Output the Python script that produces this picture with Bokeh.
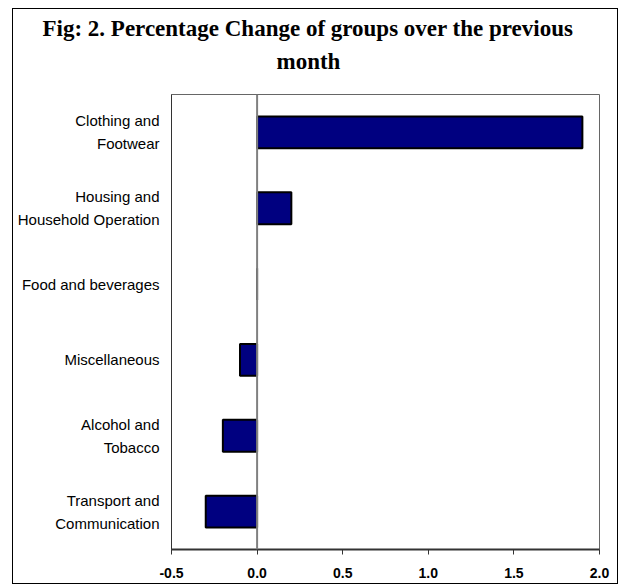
from bokeh.plotting import figure
from bokeh.models import FactorRange, Range1d, Span, FixedTicker, ColumnDataSource, Title, NumeralTickFormatter
from bokeh.embed import file_html
from bokeh.resources import INLINE

categories = ["Transport and\nCommunication", "Alcohol and\nTobacco", "Miscellaneous",
              "Food and beverages", "Housing and\nHousehold Operation", "Clothing and\nFootwear"]
values = [-0.3, -0.2, -0.1, 0.0, 0.2, 1.9]
x_ticks = [-0.5, 0.0, 0.5, 1.0, 1.5, 2.0]
title_lines = ["Fig: 2. Percentage Change of groups over the previous", "month"]
title_offsets = [-129, 105]
title_pads = [(0, 0, 0, 0), (0, 0, 0, 18)]

src = ColumnDataSource(dict(cat=categories, val=values))

p = figure(width=604, height=574, output_backend="svg", toolbar_location=None,
           y_range=FactorRange(factors=categories), x_range=Range1d(-0.5, 2.0),
           min_border_left=158, min_border_right=20, min_border_top=85, min_border_bottom=36)
p.margin = (8, 0, 0, 12)
p.styles = {"border": "1px solid black", "box-sizing": "content-box"}
p.title = None
for txt, off, pad in reversed(list(zip(title_lines, title_offsets, title_pads))):
    t = Title(text=txt, align="left", offset=off, text_font="Liberation Serif",
              text_font_style="bold", text_font_size="23px", text_color="black",
              standoff=6, padding=pad)
    p.add_layout(t, "above")

p.hbar(y="cat", right="val", left=0, height=0.42, source=src,
       fill_color="#000080", line_color="black", line_width=2)

p.add_layout(Span(location=0, dimension="height", line_color="#808080", line_width=2))

p.xgrid.visible = False
p.ygrid.visible = False
p.outline_line_color = "#666666"
p.outline_line_width = 1

p.xaxis.ticker = FixedTicker(ticks=x_ticks)
p.xaxis.formatter = NumeralTickFormatter(format="0.0")
p.xaxis.minor_tick_line_color = None
p.xaxis.major_tick_out = 5
p.xaxis.major_tick_in = 0
p.xaxis.axis_line_color = "#333333"
p.xaxis.axis_line_width = 2
p.xaxis.major_tick_line_color = "#333333"
p.xaxis.major_label_text_font = "Liberation Sans"
p.xaxis.major_label_text_font_style = "bold"
p.xaxis.major_label_text_font_size = "14px"
p.xaxis.major_label_text_color = "black"
p.xaxis.major_label_standoff = 13

p.yaxis.major_tick_line_color = None
p.yaxis.minor_tick_line_color = None
p.yaxis.axis_line_color = "#333333"
p.yaxis.major_label_text_font = "Liberation Sans"
p.yaxis.major_label_text_font_size = "15px"
p.yaxis.major_label_text_line_height = 1.35
p.yaxis.major_label_text_color = "black"
p.yaxis.major_label_standoff = 6

open("out.html", "w").write(file_html(p, INLINE))
